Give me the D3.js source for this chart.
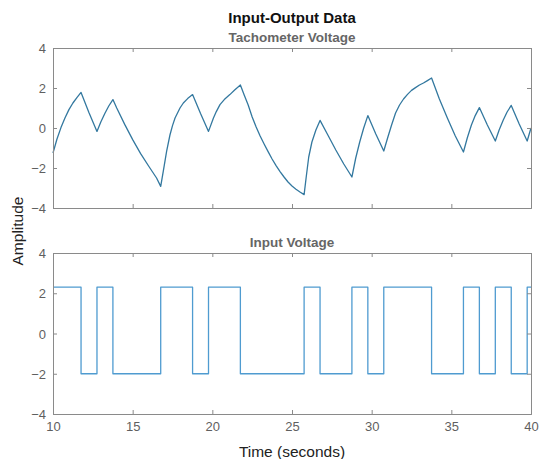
<!DOCTYPE html>
<html>
<head>
<meta charset="utf-8">
<script src="https://cdn.jsdelivr.net/npm/d3@7"></script>
<style>
  html, body { margin: 0; padding: 0; background: #fff; }
  svg { display: block; }
  text { font-family: "Liberation Sans", Arial, Helvetica, sans-serif; }
</style>
</head>
<body>
<svg id="chart" width="541" height="459"></svg>
<script>
// ---------------- data ----------------
const figTitle = "Input-Output Data";
const topTitle = "Tachometer Voltage";
const bottomTitle = "Input Voltage";
const xLabel = "Time (seconds)";
const yLabel = "Amplitude";

const xTicks = [10, 15, 20, 25, 30, 35, 40];
const yTicks = [-4, -2, 0, 2, 4];

const tachTime = [10.0, 10.25, 10.5, 10.75, 11.0, 11.25, 11.5, 11.76,
  12.26, 12.76,
  13.0, 13.26, 13.5, 13.76,
  14.0, 14.5, 15.0, 15.5, 16.0, 16.5, 16.76,
  16.92, 17.13, 17.34, 17.5, 17.66, 17.97, 18.18, 18.45, 18.76,
  19.26, 19.76,
  20.07, 20.25, 20.48, 20.75, 21.1, 21.4, 21.76,
  22.0, 22.25, 22.5, 22.75, 23.0, 23.25, 23.5, 23.75, 24.0, 24.25, 24.5, 24.75, 25.0, 25.25, 25.5, 25.76,
  25.9, 26.05, 26.25, 26.5, 26.76,
  27.25, 27.75, 28.25, 28.76,
  29.0, 29.25, 29.5, 29.76,
  30.26, 30.76,
  31.0, 31.25, 31.5, 31.75, 32.0, 32.25, 32.5, 32.75, 33.0, 33.25, 33.5, 33.76,
  34.25, 34.75, 35.25, 35.76,
  36.0, 36.26, 36.5, 36.76,
  37.26, 37.76,
  38.0, 38.26, 38.5, 38.76,
  39.26, 39.76, 40.0];

const tachVolt = [-1.25, -0.55, 0.02, 0.5, 0.92, 1.25, 1.52, 1.78,
  0.76, -0.17,
  0.3, 0.74, 1.1, 1.42,
  1.0, 0.18, -0.58, -1.28, -1.9, -2.5, -2.92,
  -2.17, -1.17, -0.35, 0.12, 0.5, 1.0, 1.25, 1.47, 1.67,
  0.72, -0.17,
  0.5, 0.82, 1.17, 1.42, 1.67, 1.9, 2.15,
  1.65, 1.15, 0.55, 0.05, -0.4, -0.8, -1.18, -1.55, -1.88, -2.18, -2.45, -2.7, -2.9, -3.06, -3.2, -3.33,
  -2.4, -1.45, -0.7, -0.1, 0.38,
  -0.35, -1.1, -1.8, -2.45,
  -1.5, -0.7, 0.0, 0.62,
  -0.3, -1.15,
  -0.5, 0.15, 0.75, 1.15, 1.45, 1.68, 1.88, 2.02, 2.15, 2.25, 2.37, 2.5,
  1.45, 0.5, -0.4, -1.2,
  -0.5, 0.15, 0.62, 1.02,
  0.15, -0.65,
  -0.1, 0.4, 0.8, 1.13,
  0.2, -0.65, 0.0];

const inputTime = [10, 11.76, 12.76, 13.76, 16.76, 18.76, 19.76, 21.76, 25.76, 26.76,
  28.76, 29.76, 30.76, 33.76, 35.76, 36.76, 37.76, 38.76, 39.76, 40];
const inputVolt = [2.3, -2, 2.3, -2, 2.3, -2, 2.3, -2, 2.3, -2,
  2.3, -2, 2.3, -2, 2.3, -2, 2.3, -2, 2.3, 2.3];

// ---------------- layout ----------------
const svg = d3.select("#chart");
const left = 53, right = 531;
const panels = [
  { top: 48, bottom: 208, title: topTitle, time: tachTime, vals: tachVolt, curve: d3.curveLinear, color: "#33789f", showX: false },
  { top: 253, bottom: 414, title: bottomTitle, time: inputTime, vals: inputVolt, curve: d3.curveStepAfter, color: "#4f9bd0", showX: true }
];

const axisColor = "#8a8a8a";
const labelColor = "#5f5f5f";
const tickLen = 4;

const x = d3.scaleLinear().domain([10, 40]).range([left, right]);

panels.forEach(p => {
  const y = d3.scaleLinear().domain([-4, 4]).range([p.bottom, p.top]);
  const g = svg.append("g");

  // data line
  const pts = p.time.map((t, i) => [t, p.vals[i]]);
  g.append("path")
    .datum(pts)
    .attr("fill", "none")
    .attr("stroke", p.color)
    .attr("stroke-width", 1.3)
    .attr("stroke-linejoin", "round")
    .attr("d", d3.line().x(d => x(d[0])).y(d => y(d[1])).curve(p.curve));

  // axes (inward ticks on all four sides)
  const bottomAxis = d3.axisBottom(x).tickValues(xTicks).tickSize(-tickLen).tickPadding(8)
    .tickFormat(p.showX ? d3.format("d") : () => "");
  const topAxis = d3.axisTop(x).tickValues(xTicks).tickSize(-tickLen).tickFormat(() => "");
  const leftAxis = d3.axisLeft(y).tickValues(yTicks).tickSize(-tickLen).tickPadding(7).tickFormat(d3.format("d"));
  const rightAxis = d3.axisRight(y).tickValues(yTicks).tickSize(-tickLen).tickFormat(() => "");

  const gb = g.append("g").attr("transform", `translate(0,${p.bottom})`).call(bottomAxis);
  const gt = g.append("g").attr("transform", `translate(0,${p.top})`).call(topAxis);
  const gl = g.append("g").attr("transform", `translate(${left},0)`).call(leftAxis);
  const gr = g.append("g").attr("transform", `translate(${right},0)`).call(rightAxis);

  [gb, gt, gl, gr].forEach(a => {
    a.select(".domain").attr("stroke", axisColor).attr("stroke-width", 1);
    a.selectAll(".tick line").attr("stroke", axisColor);
    a.selectAll(".tick text").attr("fill", labelColor).style("font-size", "13px")
      .style("font-family", "'Liberation Sans', Arial, sans-serif");
  });
  gl.selectAll(".tick text").attr("dy", "0.35em");

  // panel title
  svg.append("text")
    .attr("x", (left + right) / 2)
    .attr("y", p.top - 6)
    .attr("text-anchor", "middle")
    .attr("fill", "#666")
    .style("font-weight", "bold")
    .style("font-size", "13.5px")
    .text(p.title);
});

// figure title
svg.append("text")
  .attr("x", (left + right) / 2)
  .attr("y", 23)
  .attr("text-anchor", "middle")
  .attr("fill", "#111")
  .style("font-weight", "bold")
  .style("font-size", "15px")
  .text(figTitle);

// x label
svg.append("text")
  .attr("x", (left + right) / 2)
  .attr("y", 457)
  .attr("text-anchor", "middle")
  .attr("fill", "#222")
  .style("font-size", "15.5px")
  .text(xLabel);

// y label
svg.append("text")
  .attr("transform", `translate(23,231) rotate(-90)`)
  .attr("text-anchor", "middle")
  .attr("fill", "#222")
  .style("font-size", "15.5px")
  .text(yLabel);
</script>
</body>
</html>
